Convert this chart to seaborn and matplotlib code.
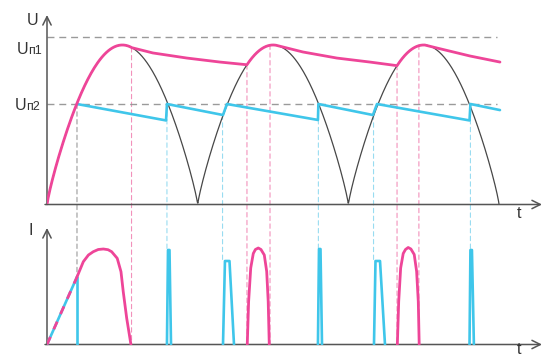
import matplotlib
matplotlib.use("Agg")

import numpy as np
import pandas as pd
import matplotlib.pyplot as plt
import seaborn as sns
from matplotlib.patches import ConnectionPatch

sns.set_theme(style="white")
plt.rcParams["font.family"] = ["Liberation Sans", "DejaVu Sans"]

PINK = "#ee4598"
CYAN = "#3fc6ea"
PINK_LIGHT = "#f291bb"
CYAN_LIGHT = "#98dcf1"
GREY = "#9a9a9a"
AXIS = "#555555"
TEXT = "#333333"

# t in half-periods of the mains voltage, U in units of its amplitude
SINE_ZEROS = [0.0, 1.0, 2.0, 3.0]
SHAPE_POWER = 0.85          # drawn curve is a bit fuller than a pure sine
U_N1 = 1.047
U_N2 = 0.630
LEVEL_END = 2.986

# pink capacitor voltage: follows the sine inside these windows, then discharges
PINK_CHARGE_START = [0.0, 1.327, 2.323]
PINK_CHARGE_END = [0.564, 1.520, 2.508]
PINK_DISCHARGE_T = [[0.703, 0.929, 1.148], [1.699, 1.924, 2.143], [2.588, 2.807, 3.006]]
PINK_DISCHARGE_U = [[0.950, 0.918, 0.893], [0.956, 0.918, 0.893], [0.981, 0.931, 0.893]]

# cyan capacitor voltage (read point by point)
CYAN_T = [0.199, 0.790, 0.796, 1.168, 1.194, 1.798, 1.801, 2.163, 2.190, 2.804, 2.810, 3.006]
CYAN_U = [0.630, 0.527, 0.630, 0.561, 0.630, 0.530, 0.630, 0.561, 0.630, 0.527, 0.630, 0.592]

# currents
PINK_RAMP_T = [0.0, 0.199]
PINK_RAMP_I = [0.0, 0.675]
PINK_ARCH_T = [
    [0.199, 0.241, 0.275, 0.307, 0.340, 0.374, 0.405, 0.429, 0.466, 0.491, 0.506, 0.529, 0.557],
    [1.329, 1.338, 1.352, 1.369, 1.383, 1.402, 1.420, 1.442, 1.458, 1.468, 1.475],
    [2.325, 2.334, 2.347, 2.364, 2.379, 2.397, 2.415, 2.437, 2.453, 2.464, 2.470],
]
PINK_ARCH_I = [
    [0.675, 0.828, 0.895, 0.928, 0.950, 0.955, 0.948, 0.928, 0.862, 0.728, 0.528, 0.262, 0.0],
    [0.0, 0.43, 0.765, 0.91, 0.95, 0.965, 0.95, 0.895, 0.73, 0.43, 0.0],
    [0.0, 0.43, 0.765, 0.91, 0.95, 0.97, 0.955, 0.90, 0.73, 0.43, 0.0],
]
CYAN_PULSE_T = [
    [0.0, 0.199],
    [0.199, 0.199],
    [0.796, 0.803, 0.813, 0.823],
    [1.168, 1.181, 1.211, 1.241],
    [1.798, 1.805, 1.815, 1.825],
    [2.170, 2.180, 2.210, 2.243],
    [2.804, 2.810, 2.820, 2.833],
]
CYAN_PULSE_I = [
    [0.0, 0.675],
    [0.675, 0.0],
    [0.0, 0.945, 0.945, 0.0],
    [0.0, 0.835, 0.835, 0.0],
    [0.0, 0.955, 0.955, 0.0],
    [0.0, 0.835, 0.835, 0.0],
    [0.0, 0.945, 0.945, 0.0],
]

# dashed guides between the two panels: t, U at top end, I at bottom end, kind
GUIDE_T = [0.199, 0.561, 0.796, 1.165, 1.327, 1.480, 1.801, 2.167, 2.323, 2.468, 2.810]
GUIDE_U = [0.630, 0.983, 0.630, 0.561, 0.876, 1.000, 0.630, 0.561, 0.872, 1.000, 0.630]
GUIDE_I = [0.675, 0.0, 0.945, 0.835, 0.0, 0.0, 0.955, 0.835, 0.0, 0.0, 0.945]
GUIDE_KIND = ["grey", "pink", "cyan", "cyan", "pink", "pink", "cyan", "cyan", "pink", "pink", "cyan"]


def shape(t):
    return np.abs(np.sin(np.pi * np.asarray(t))) ** SHAPE_POWER


W, H = 543, 359


def px_box(left, top, right, bottom):
    return [left / W, 1 - bottom / H, (right - left) / W, (bottom - top) / H]


fig = plt.figure(figsize=(W / 100, H / 100), dpi=100)
fig.patch.set_facecolor("white")
ax_u = fig.add_axes(px_box(47, 15, 542, 204.5))
ax_i = fig.add_axes(px_box(47, 228, 542, 344.5))
ax_u.set_xlim(0, 3.285)
ax_u.set_ylim(0, 1.188)
ax_i.set_xlim(0, 3.285)
ax_i.set_ylim(0, 1.165)
for ax in (ax_u, ax_i):
    ax.set_axis_off()
    ax.patch.set_alpha(0)
    arrow = dict(arrowstyle="->,head_length=0.6,head_width=0.3", mutation_scale=10,
                 color=AXIS, lw=1.1, shrinkA=0, shrinkB=0)
    ax.annotate("", xy=(1, 0), xytext=(-0.004, 0), xycoords="axes fraction",
                arrowprops=arrow, annotation_clip=False)
    ax.annotate("", xy=(0, 1), xytext=(0, 0), xycoords="axes fraction",
                arrowprops=arrow, annotation_clip=False)

# reference levels
ax_u.hlines([U_N1, U_N2], 0, LEVEL_END, color=GREY, lw=1.0, linestyle=(0, (5, 3.5)), zorder=1)

# rectified sine
t_sine = np.linspace(SINE_ZEROS[0], SINE_ZEROS[-1], 900)
sine_df = pd.DataFrame({"t": t_sine, "U": shape(t_sine)})
sns.lineplot(data=sine_df, x="t", y="U", sort=False, estimator=None,
             color="#474747", lw=0.9, ax=ax_u, zorder=2)

# cyan voltage
cyan_df = pd.DataFrame({"t": CYAN_T, "U": CYAN_U})
sns.lineplot(data=cyan_df, x="t", y="U", sort=False, estimator=None,
             color=CYAN, lw=1.9, ax=ax_u, zorder=3)

# pink voltage
pt, pu = [], []
for k in range(len(PINK_CHARGE_START)):
    tc = np.linspace(PINK_CHARGE_START[k], PINK_CHARGE_END[k], 80)
    pt += list(tc)
    pu += list(shape(tc))
    pt += PINK_DISCHARGE_T[k]
    pu += PINK_DISCHARGE_U[k]
pink_df = pd.DataFrame({"t": pt, "U": pu})
sns.lineplot(data=pink_df, x="t", y="U", sort=False, estimator=None,
             color=PINK, lw=2.0, ax=ax_u, zorder=4)

# currents
rows = []
for n, (ts, cs) in enumerate(zip(CYAN_PULSE_T, CYAN_PULSE_I)):
    rows += [{"pulse": n, "t": a, "I": b} for a, b in zip(ts, cs)]
cyan_i = pd.DataFrame(rows)
sns.lineplot(data=cyan_i, x="t", y="I", units="pulse", sort=False, estimator=None,
             color=CYAN, lw=1.9, ax=ax_i, zorder=3)

rows = []
for n, (ts, cs) in enumerate(zip(PINK_ARCH_T, PINK_ARCH_I)):
    rows += [{"arch": n, "t": a, "I": b} for a, b in zip(ts, cs)]
pink_i = pd.DataFrame(rows)
sns.lineplot(data=pink_i, x="t", y="I", units="arch", sort=False, estimator=None,
             color=PINK, lw=2.0, ax=ax_i, zorder=4)
ramp = pd.DataFrame({"t": PINK_RAMP_T, "I": PINK_RAMP_I})
sns.lineplot(data=ramp, x="t", y="I", sort=False, estimator=None, color=PINK,
             lw=2.0, linestyle=(0, (3, 3)), ax=ax_i, zorder=5)

# guides
guide_colors = {"grey": GREY, "pink": PINK_LIGHT, "cyan": CYAN_LIGHT}
for t, u, i, kind in zip(GUIDE_T, GUIDE_U, GUIDE_I, GUIDE_KIND):
    con = ConnectionPatch(xyA=(t, u), coordsA=ax_u.transData, xyB=(t, i), coordsB=ax_i.transData,
                          color=guide_colors[kind], lw=0.8, linestyle=(0, (4, 3)), zorder=-1)
    fig.add_artist(con)


# labels
def ftext(x, y, s, size):
    fig.text(x / W, 1 - y / H, s, fontsize=size, color=TEXT, va="baseline", ha="left")


ftext(27, 25, "U", 11.5)
ftext(17, 54.5, "U", 11.5)
ftext(28.5, 54.5, "п1", 9)
ftext(15, 110, "U", 11.5)
ftext(26.5, 110, "п2", 9)
ftext(28, 235, "I", 11.5)
ftext(517, 218, "t", 11.5)
ftext(517, 354, "t", 11.5)

fig.savefig("out.png", dpi=100)
